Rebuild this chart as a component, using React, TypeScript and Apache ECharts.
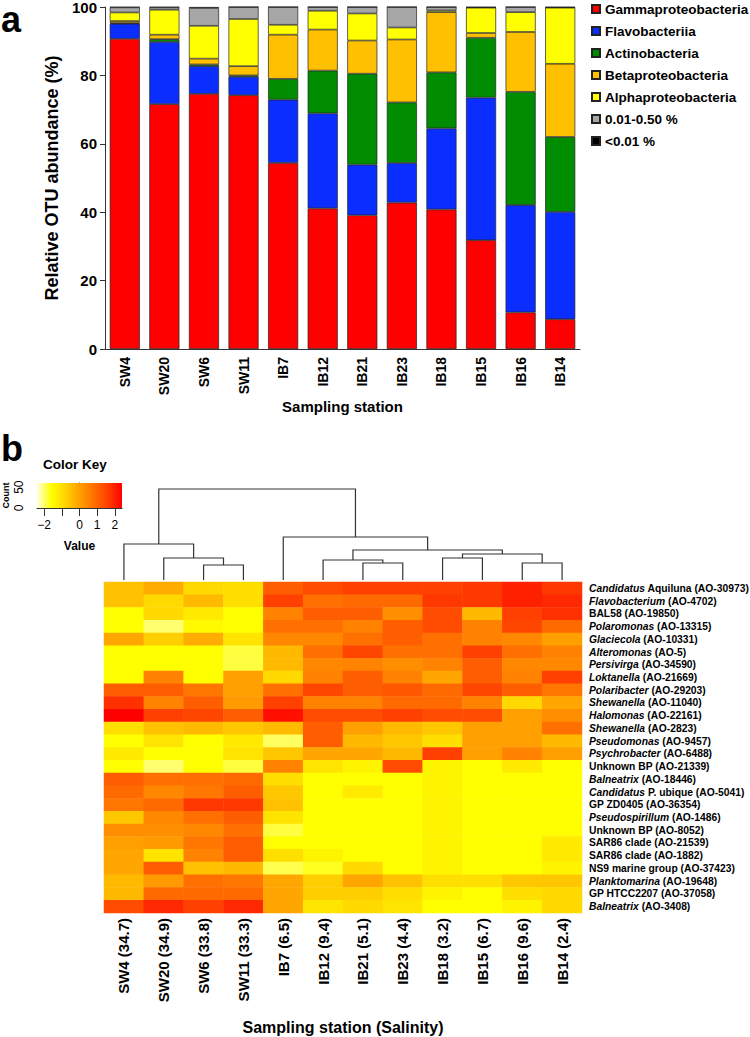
import React, { useEffect, useRef } from "react";
import * as echarts from "echarts";

const stations = ["SW4", "SW20", "SW6", "SW11", "IB7", "IB12", "IB21", "IB23", "IB18", "IB15", "IB16", "IB14"];
const salinity = ["34.7", "34.9", "33.8", "33.3", "6.5", "9.4", "5.1", "4.4", "3.2", "6.7", "9.6", "2.4"];

const gamma = [90.7, 71.6, 74.6, 74.2, 54.4, 41.1, 39.1, 42.8, 40.8, 31.8, 10.7, 8.7];
const flavo = [4.4, 18.2, 8.1, 5.4, 18.5, 27.8, 14.8, 11.6, 23.7, 41.7, 31.4, 31.4];
const actino = [0.2, 0.8, 0.5, 0.4, 6.1, 12.5, 26.6, 17.7, 16.4, 17.5, 33.1, 21.9];
const beta = [0.6, 1.3, 1.7, 2.7, 12.9, 12.0, 9.7, 18.4, 17.6, 1.4, 17.5, 21.4];
const alpha = [2.5, 7.3, 9.6, 13.8, 2.9, 5.5, 7.9, 3.5, 0.5, 7.4, 5.8, 16.4];
const minor = [1.5, 0.7, 5.2, 3.5, 5.2, 1.1, 1.9, 6.0, 1.0, 0.1, 1.5, 0.1];
const rare = [0.1, 0.1, 0.3, 0.0, 0.0, 0.0, 0.0, 0.0, 0.0, 0.1, 0.0, 0.1];

const classNames = ["Gammaproteobacteria", "Flavobacteriia", "Actinobacteria", "Betaproteobacteria", "Alphaproteobacteria", "0.01-0.50 %", "<0.01 %"];
const classColors = ["#FF0000", "#0A2EFF", "#008C00", "#FFC000", "#FFFF00", "#A6A6A6", "#000000"];

const otuItalic = ["Candidatus", "Flavobacterium", "", "Polaromonas", "Glaciecola", "Alteromonas", "Persivirga", "Loktanella", "Polaribacter", "Shewanella", "Halomonas", "Shewanella", "Pseudomonas", "Psychrobacter", "", "Balneatrix", "Candidatus", "", "Pseudospirillum", "", "", "", "", "Planktomarina", "", "Balneatrix"];
const otuRest = [" Aquiluna (AO-30973)", " (AO-4702)", "BAL58 (AO-19850)", " (AO-13315)", " (AO-10331)", " (AO-5)", " (AO-34590)", " (AO-21669)", " (AO-29203)", " (AO-11040)", " (AO-22161)", " (AO-2823)", " (AO-9457)", " (AO-6488)", "Unknown BP (AO-21339)", " (AO-18446)", " P. ubique (AO-5041)", "GP ZD0405 (AO-36354)", " (AO-1486)", "Unknown BP (AO-8052)", "SAR86 clade (AO-21539)", "SAR86 clade (AO-1882)", "NS9 marine group (AO-37423)", " (AO-19648)", "GP HTCC2207 (AO-37058)", " (AO-3408)"];

const heatRows = [
  [-0.5, -0.2, -0.9, -1.0, 1.1, 1.4, 1.6, 1.6, 1.6, 1.7, 2.0, 1.7],
  [-0.5, -0.9, -0.4, -1.0, 1.6, 0.8, 0.9, 0.9, 1.7, 1.7, 2.0, 1.9],
  [-1.6, -0.9, -1.2, -1.6, 0.5, 1.1, 1.1, 0.3, 1.4, -0.4, 1.6, 1.8],
  [-1.6, -2.3, -1.5, -1.6, 0.8, 0.8, 0.5, 1.1, 1.4, 0.5, 1.5, 0.9],
  [-0.1, -0.7, -0.2, -1.1, 0.4, 0.4, 0.8, 1.1, 0.8, 0.5, 0.4, 0.0],
  [-1.6, -1.6, -1.6, -2.0, -0.4, 0.8, 1.5, 0.8, 0.8, 1.6, 0.8, 0.5],
  [-1.6, -1.6, -1.6, -2.0, -0.4, 0.4, 0.5, 0.3, 0.5, 1.1, 0.4, 0.4],
  [-1.6, 0.5, -1.6, 0.0, -0.9, 0.5, 1.1, 0.5, -0.1, 1.1, 0.5, 1.6],
  [1.1, 1.1, 0.7, 0.0, 0.8, 1.5, 1.1, 1.2, 0.9, 1.5, 1.1, 0.7],
  [1.8, 0.5, 1.1, 0.1, 1.6, 0.5, 0.5, 0.9, 0.9, 0.5, -0.9, -0.1],
  [2.4, 1.6, 1.5, 1.1, 2.2, 1.4, 1.4, 1.6, 1.4, 1.4, 0.0, 0.3],
  [-1.0, -0.5, -0.4, -0.6, -0.4, 1.1, 0.0, -0.4, -0.6, 0.0, 0.0, 0.8],
  [-1.6, -1.1, -1.6, -1.2, -2.2, 1.1, -0.4, -0.6, -1.0, 0.0, 0.0, -0.4],
  [-1.2, -1.6, -1.6, -1.1, -0.6, -0.1, -0.1, -0.4, 1.6, 0.0, 0.5, 0.0],
  [-1.6, -2.3, -1.6, -2.0, 0.5, -1.1, -1.4, 1.4, -1.4, -1.6, -1.2, -1.6],
  [1.1, 0.8, 0.8, 0.9, -1.0, -1.6, -1.6, -1.6, -1.4, -1.6, -1.6, -1.6],
  [0.9, 0.4, 0.7, 1.1, -0.6, -1.6, -1.2, -1.6, -1.4, -1.6, -1.6, -1.6],
  [0.7, 0.9, 1.7, 1.7, -0.5, -1.6, -1.6, -1.6, -1.4, -1.6, -1.6, -1.6],
  [-0.6, 0.4, 0.8, 1.1, -1.1, -1.6, -1.6, -1.6, -1.4, -1.6, -1.6, -1.6],
  [0.3, 0.3, 0.4, 0.8, -2.0, -1.6, -1.6, -1.6, -1.4, -1.6, -1.6, -1.6],
  [0.0, 0.1, 0.7, 1.1, -1.6, -1.6, -1.6, -1.6, -1.4, -1.6, -1.6, -1.2],
  [-0.1, -1.1, 0.5, 1.1, -1.0, -1.4, -1.6, -1.6, -1.4, -1.6, -1.6, -1.2],
  [-0.1, 1.1, -0.5, -0.4, -2.1, -1.8, -0.9, -1.6, -1.4, -1.6, -1.6, -1.4],
  [-0.4, 0.1, 0.8, 0.7, -0.1, -0.7, -0.1, -0.5, -1.0, -1.0, -0.6, -0.6],
  [-0.4, 0.9, 0.9, 0.9, -0.1, -0.7, -0.7, -1.0, -1.4, -1.6, -1.0, -0.9],
  [1.4, 1.9, 1.6, 1.9, -0.1, -1.1, -0.9, -1.1, -1.6, -1.6, -1.4, -0.9],
];

// hclust-style merges: negative = leaf (1-based column), positive = earlier merge (1-based); third = height
const dendroMerge = [
  [-3, -4, 15], [-2, 1, 22], [-1, 2, 36],
  [-7, -8, 17], [-6, 4, 20], [-9, -10, 22], [-11, -12, 17],
  [6, 7, 26], [5, 8, 30], [-5, 9, 43], [3, 10, 91],
];

const heatColors = ["#FFFF80", "#FFFF00", "#FFD400", "#FFA000", "#FF7000", "#FF4000", "#FF0000"];
const keyColors = ["#FFFFE0", "#FFFF00", "#FFD400", "#FFA000", "#FF7000", "#FF4000", "#FF0000"];
const keyTicks = [-2, -1, 0, 1, 2];
const keyLabels = [-2, 0, 1, 2];
const countLabels = [0, 50];

const FONT = "'Liberation Sans', Arial, Helvetica, sans-serif";

export default function App() {
  const ref = useRef<HTMLDivElement>(null);
  useEffect(() => {
    document.body.style.margin = "0";
    if (!ref.current) return;
    const chart = echarts.init(ref.current, undefined, { renderer: "svg" });

    const barSeries = [gamma, flavo, actino, beta, alpha, minor, rare].map((d, k) => ({
      name: classNames[k],
      type: "bar",
      stack: "total",
      xAxisIndex: 0,
      yAxisIndex: 0,
      barWidth: "76%",
      data: d,
      itemStyle: { color: classColors[k], borderColor: "#222", borderWidth: 0.7 },
    }));

    const nodeX: number[] = [];
    const nodeH: number[] = [];
    const pos = (id: number) => (id < 0 ? { x: -id - 1, h: 0 } : { x: nodeX[id - 1], h: nodeH[id - 1] });
    const segs = dendroMerge.map(([a, b, h], k) => {
      const A = pos(a);
      const B = pos(b);
      nodeX[k] = (A.x + B.x) / 2;
      nodeH[k] = h;
      return [A.x, A.h, B.x, B.h, h];
    });

    const heatData: number[][] = [];
    heatRows.forEach((row, r) => row.forEach((v, c) => heatData.push([c, r, v])));

    const otuFull = otuItalic.map((s, i) => s + otuRest[i]);
    const stationLabels = stations.map((s, i) => `${s} (${salinity[i]})`);

    const option: any = {
      animation: false,
      textStyle: { fontFamily: FONT },
      legend: {
        data: classNames,
        orient: "vertical",
        left: 591,
        top: 2,
        padding: 0,
        itemWidth: 8,
        itemHeight: 8,
        itemGap: 8,
        icon: "rect",
        textStyle: { fontSize: 13.5, fontWeight: "bold", color: "#000", lineHeight: 14, fontFamily: FONT },
      },
      grid: [
        { left: 105, top: 7, width: 475, height: 342, outerBoundsMode: "none" },
        { left: 104, top: 480, width: 478, height: 100, outerBoundsMode: "none" },
        { left: 104, top: 582, width: 478, height: 331, outerBoundsMode: "none" },
        { left: 37, top: 483, width: 85, height: 25, outerBoundsMode: "none" },
      ],
      xAxis: [
        {
          gridIndex: 0, type: "category", data: stations,
          axisLine: { lineStyle: { color: "#333" } },
          axisTick: { length: 4, lineStyle: { color: "#333" } },
          axisLabel: { rotate: 90, interval: 0, fontSize: 14, fontWeight: "bold", color: "#000", margin: 8, fontFamily: FONT },
          name: "Sampling station", nameLocation: "middle", nameGap: 50,
          nameTextStyle: { fontSize: 15, fontWeight: "bold", color: "#000", fontFamily: FONT },
        },
        { gridIndex: 1, type: "value", min: -0.5, max: 11.5, show: false },
        {
          gridIndex: 2, type: "category", data: stationLabels,
          axisLine: { show: false }, axisTick: { show: false },
          axisLabel: { rotate: 90, interval: 0, fontSize: 15, fontWeight: "bold", color: "#000", margin: 5, fontFamily: FONT },
          name: "Sampling station (Salinity)", nameLocation: "middle", nameGap: 106,
          nameTextStyle: { fontSize: 16, fontWeight: "bold", color: "#000", fontFamily: FONT },
        },
        {
          gridIndex: 3, type: "value", min: -2.4, max: 2.4,
          splitLine: { show: false },
          axisLine: { show: true, lineStyle: { color: "#333" } },
          axisTick: { show: true, length: 8, customValues: keyTicks, lineStyle: { color: "#333" } },
          axisLabel: {
            customValues: keyLabels, fontSize: 12, color: "#000", margin: 11, fontFamily: FONT,
            formatter: (v: number) => (v < 0 ? "\u2212" + Math.abs(v) : String(v)),
          },
          name: "Value", nameLocation: "middle", nameGap: 32,
          nameTextStyle: { fontSize: 12, fontWeight: "bold", color: "#000", fontFamily: FONT },
        },
      ],
      yAxis: [
        {
          gridIndex: 0, type: "value", min: 0, max: 100, interval: 20,
          splitLine: { show: false },
          axisLine: { show: true, lineStyle: { color: "#333" } },
          axisTick: { show: true, length: 5, lineStyle: { color: "#333" } },
          axisLabel: { fontSize: 15, fontWeight: "bold", color: "#000", margin: 8, fontFamily: FONT },
          name: "Relative OTU abundance (%)", nameLocation: "middle", nameGap: 40, nameRotate: 90,
          nameTextStyle: { fontSize: 18, fontWeight: "bold", color: "#000", fontFamily: FONT },
        },
        { gridIndex: 1, type: "value", min: 0, max: 100, show: false },
        {
          gridIndex: 2, type: "category", data: otuFull, inverse: true, position: "right",
          axisLine: { show: false }, axisTick: { show: false },
          axisLabel: {
            interval: 0, margin: 7, fontSize: 10.3, fontWeight: "bold", color: "#000", fontFamily: FONT,
            formatter: (_v: string, i: number) =>
              (otuItalic[i] ? `{i|${otuItalic[i]}}` : "") + `{n|${otuRest[i]}}`,
            rich: {
              i: { fontStyle: "italic", fontWeight: "bold", fontSize: 10.3, color: "#000", fontFamily: FONT },
              n: { fontWeight: "bold", fontSize: 10.3, color: "#000", fontFamily: FONT },
            },
          },
        },
        {
          gridIndex: 3, type: "value", min: 0, max: 60, interval: 10,
          splitLine: { show: false },
          axisLine: { show: true, lineStyle: { color: "#333" } },
          axisTick: { show: true, length: 6, lineStyle: { color: "#333" } },
          axisLabel: { customValues: countLabels, rotate: 90, fontSize: 12, color: "#000", margin: 12, fontFamily: FONT },
          name: "Count", nameLocation: "middle", nameRotate: 90, nameGap: 27,
          nameTextStyle: { fontSize: 9, fontWeight: "bold", color: "#000", fontFamily: FONT },
        },
      ],
      visualMap: {
        show: false, type: "continuous", min: -2.4, max: 2.4, seriesIndex: 8, dimension: 2,
        inRange: { color: heatColors },
      },
      graphic: [
        { type: "text", left: 1, top: 1, style: { text: "a", fontSize: 36, fontWeight: "bold", fill: "#000", fontFamily: FONT } },
        { type: "text", left: 1, top: 430, style: { text: "b", fontSize: 36, fontWeight: "bold", fill: "#000", fontFamily: FONT } },
        { type: "text", left: 43, top: 457, style: { text: "Color Key", fontSize: 13.5, fontWeight: "bold", fill: "#000", fontFamily: FONT } },
      ],
      series: [
        ...barSeries,
        {
          type: "custom",
          name: "dendrogram",
          xAxisIndex: 1,
          yAxisIndex: 1,
          data: segs,
          encode: { x: [0, 2], y: [1, 3, 4] },
          silent: true,
          renderItem: (_p: any, api: any) => {
            const x1 = api.value(0), h1 = api.value(1), x2 = api.value(2), h2 = api.value(3), h = api.value(4);
            const pts = [api.coord([x1, h1]), api.coord([x1, h]), api.coord([x2, h]), api.coord([x2, h2])];
            return { type: "polyline", shape: { points: pts }, style: { stroke: "#333", lineWidth: 1.2, fill: null } };
          },
        },
        {
          type: "heatmap",
          name: "heat",
          xAxisIndex: 2,
          yAxisIndex: 2,
          data: heatData,
          progressive: 0,
          emphasis: { disabled: true },
          itemStyle: { borderWidth: 0 },
        },
        {
          type: "custom",
          name: "colorkey",
          xAxisIndex: 3,
          yAxisIndex: 3,
          data: [[-2.4, 0, 2.4, 60]],
          encode: { x: [0, 2], y: [1, 3] },
          silent: true,
          renderItem: (_p: any, api: any) => {
            const p1 = api.coord([api.value(0), api.value(3)]);
            const p2 = api.coord([api.value(2), api.value(1)]);
            const stops = keyColors.map((c, i) => ({ offset: i / (keyColors.length - 1), color: c }));
            return {
              type: "rect",
              shape: { x: p1[0], y: p1[1], width: p2[0] - p1[0], height: p2[1] - p1[1] },
              style: { fill: new echarts.graphic.LinearGradient(0, 0, 1, 0, stops) },
            };
          },
        },
      ],
    };
    chart.setOption(option);
    return () => chart.dispose();
  }, []);
  return <div ref={ref} style={{ width: 750, height: 1037 }} />;
}
